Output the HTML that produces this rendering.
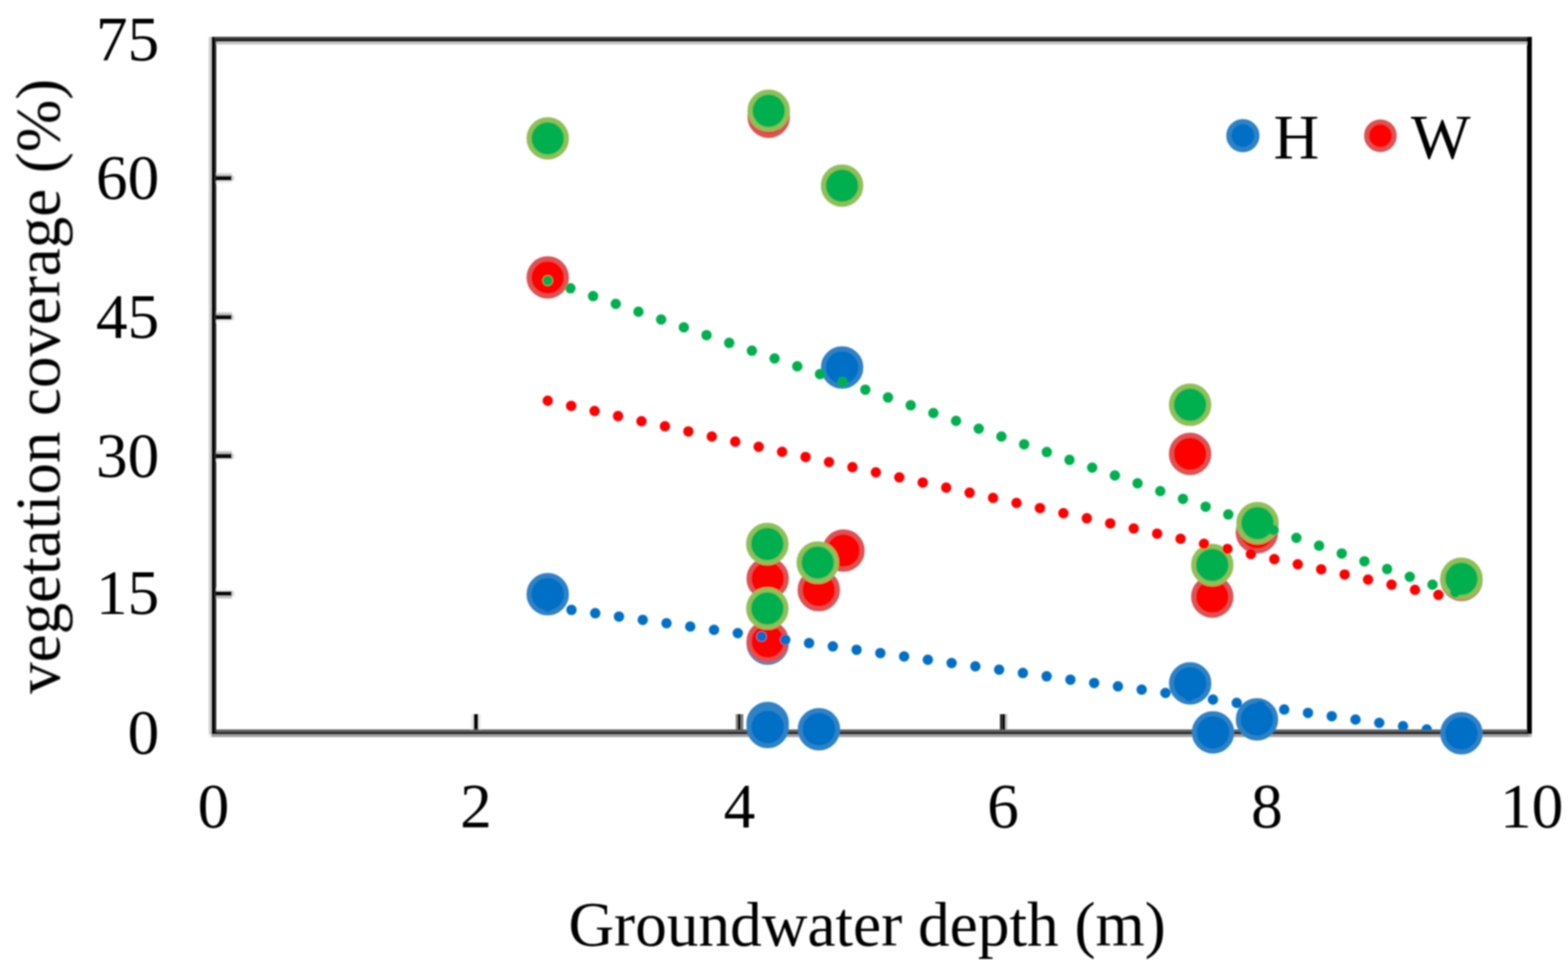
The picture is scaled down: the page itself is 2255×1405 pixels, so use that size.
<!DOCTYPE html>
<html><head><meta charset="utf-8"><title>vegetation coverage vs groundwater depth</title>
<style>
html,body{margin:0;padding:0;background:#fff;}
svg{display:block;}
text{font-family:'Liberation Serif','Times New Roman',serif;font-size:91px;fill:#000;}
</style></head><body>
<svg width="2255" height="1405" viewBox="0 0 2255 1405">
<defs><clipPath id="plot"><rect x="311" y="60" width="1885" height="990"/></clipPath>
<filter id="soft" x="0" y="0" width="2255" height="1405" filterUnits="userSpaceOnUse"><feGaussianBlur stdDeviation="0.8"/></filter></defs>
<rect width="2255" height="1405" fill="#fff"/>
<g filter="url(#soft)">

<g id="frame">
<rect x="300" y="53" width="4" height="1003" fill="#d2d2d2"/>
<rect x="300" y="1056" width="4" height="4" fill="#f0f0f0"/>
<rect x="311" y="60" width="1885" height="4" fill="#c8c8c8"/>
<rect x="304" y="53" width="1899" height="3.5" fill="#383838"/>
<rect x="304" y="56.5" width="1899" height="3.5" fill="#000"/>
<rect x="304" y="1056" width="1895" height="4" fill="#a2a2a2"/>
<rect x="2199" y="1056" width="4" height="4" fill="#c0c0c0"/>
<rect x="311" y="1049" width="1885" height="4" fill="#606060"/>
<rect x="304" y="1053" width="1899" height="3" fill="#000"/>
<rect x="304" y="53" width="4" height="1003" fill="#000"/>
<rect x="308" y="56" width="3" height="997" fill="#282828"/>
<rect x="2196" y="53" width="7" height="1003" fill="#000"/>
<rect x="311" y="249.0" width="22.5" height="3.8" fill="#d4d4d4"/>
<rect x="311" y="259.8" width="22.5" height="3.8" fill="#eeeeee"/>
<rect x="311" y="252.8" width="22.5" height="7" fill="#0a0a0a"/>
<rect x="333.5" y="252.8" width="3.5" height="7" fill="#dddddd"/>
<rect x="311" y="449.0" width="22.5" height="3.8" fill="#cccccc"/>
<rect x="311" y="459.8" width="22.5" height="3.8" fill="#f4f4f4"/>
<rect x="311" y="452.8" width="22.5" height="7" fill="#0a0a0a"/>
<rect x="333.5" y="452.8" width="3.5" height="7" fill="#dddddd"/>
<rect x="311" y="648.7" width="22.5" height="3.8" fill="#c4c4c4"/>
<rect x="311" y="659.5" width="22.5" height="3.8" fill="#fafafa"/>
<rect x="311" y="652.5" width="22.5" height="7" fill="#0a0a0a"/>
<rect x="333.5" y="652.5" width="3.5" height="7" fill="#dddddd"/>
<rect x="311" y="846.2" width="22.5" height="3.8" fill="#f8f8f8"/>
<rect x="311" y="857.0" width="22.5" height="3.8" fill="#c4c4c4"/>
<rect x="311" y="850.0" width="22.5" height="7" fill="#0a0a0a"/>
<rect x="333.5" y="850.0" width="3.5" height="7" fill="#dddddd"/>
<rect x="677" y="1027" width="4" height="22" fill="#eeeeee"/><rect x="688" y="1027" width="4" height="22" fill="#f0f0f0"/><rect x="681" y="1027" width="7" height="22" fill="#0a0a0a"/>
<rect x="1058" y="1027" width="3.2" height="22" fill="#8a8a8a"/><rect x="1065" y="1027" width="4" height="22" fill="#7a7a7a"/><rect x="1061" y="1027" width="4" height="22" fill="#000"/>
<rect x="1438" y="1027" width="4" height="22" fill="#333"/><rect x="1442" y="1027" width="4" height="22" fill="#000"/><rect x="1446" y="1027" width="3" height="22" fill="#cccccc"/>
<rect x="1818" y="1027" width="7" height="22" fill="#0a0a0a"/>
</g>
<g id="markers">
<circle cx="787.7" cy="854.5" r="27.0" fill="#0070c6" stroke="#2d82c5" stroke-width="7"/>
<circle cx="1211.1" cy="528.5" r="27.0" fill="#0070c6" stroke="#2d82c5" stroke-width="7"/>
<circle cx="1104" cy="925.5" r="27.0" fill="#0070c6" stroke="#2d82c5" stroke-width="7"/>
<circle cx="1104" cy="1039.8" r="27.0" fill="#0070c6" stroke="#2d82c5" stroke-width="7"/>
<circle cx="1104" cy="1045.5" r="27.0" fill="#0070c6" stroke="#2d82c5" stroke-width="7"/>
<circle cx="1177.8" cy="1048.7" r="27.0" fill="#0070c6" stroke="#2d82c5" stroke-width="7"/>
<circle cx="1711.6" cy="982.7" r="27.0" fill="#0070c6" stroke="#2d82c5" stroke-width="7"/>
<circle cx="1744.5" cy="1053.2" r="27.0" fill="#0070c6" stroke="#2d82c5" stroke-width="7"/>
<circle cx="1807.7" cy="1034.5" r="27.0" fill="#0070c6" stroke="#2d82c5" stroke-width="7"/>
<circle cx="2101.8" cy="1054.5" r="27.0" fill="#0070c6" stroke="#2d82c5" stroke-width="7"/>
<circle cx="787.7" cy="399" r="27.0" fill="#ff0000" stroke="#db5252" stroke-width="7"/>
<circle cx="1105.5" cy="168" r="27.0" fill="#ff0000" stroke="#db5252" stroke-width="7"/>
<circle cx="1104" cy="832" r="27.0" fill="#ff0000" stroke="#db5252" stroke-width="7"/>
<circle cx="1104" cy="922.5" r="27.0" fill="#ff0000" stroke="#db5252" stroke-width="7"/>
<circle cx="1177.5" cy="848.6" r="27.0" fill="#ff0000" stroke="#db5252" stroke-width="7"/>
<circle cx="1213" cy="791.7" r="27.0" fill="#ff0000" stroke="#db5252" stroke-width="7"/>
<circle cx="1711.5" cy="652.7" r="27.0" fill="#ff0000" stroke="#db5252" stroke-width="7"/>
<circle cx="1743.4" cy="858" r="27.0" fill="#ff0000" stroke="#db5252" stroke-width="7"/>
<circle cx="1807.6" cy="765.5" r="27.0" fill="#ff0000" stroke="#db5252" stroke-width="7"/>
<circle cx="2101.8" cy="834" r="27.0" fill="#ff0000" stroke="#db5252" stroke-width="7"/>
<circle cx="787.7" cy="199" r="27.0" fill="#00b04f" stroke="#8fc058" stroke-width="7"/>
<circle cx="1105.5" cy="159.3" r="27.0" fill="#00b04f" stroke="#8fc058" stroke-width="7"/>
<circle cx="1211" cy="267" r="27.0" fill="#00b04f" stroke="#8fc058" stroke-width="7"/>
<circle cx="1103.5" cy="782.3" r="27.0" fill="#00b04f" stroke="#8fc058" stroke-width="7"/>
<circle cx="1103.5" cy="875" r="27.0" fill="#00b04f" stroke="#8fc058" stroke-width="7"/>
<circle cx="1176" cy="809" r="27.0" fill="#00b04f" stroke="#8fc058" stroke-width="7"/>
<circle cx="1711.5" cy="582.1" r="27.0" fill="#00b04f" stroke="#8fc058" stroke-width="7"/>
<circle cx="1743.4" cy="812.4" r="27.0" fill="#00b04f" stroke="#8fc058" stroke-width="7"/>
<circle cx="1808.5" cy="752.3" r="27.0" fill="#00b04f" stroke="#8fc058" stroke-width="7"/>
<circle cx="2101.8" cy="832.3" r="27.0" fill="#00b04f" stroke="#8fc058" stroke-width="7"/>
</g>
<g id="trends" clip-path="url(#plot)">
<line x1="787.7" y1="872.3" x2="2101.8" y2="1056.0" stroke="#0070c6" stroke-width="15" stroke-linecap="round" stroke-dasharray="0 34.5"/>
<line x1="787.7" y1="576.3" x2="2101.8" y2="862.8" stroke="#ff0000" stroke-width="15" stroke-linecap="round" stroke-dasharray="0 34.5"/>
<line x1="787.7" y1="403.4" x2="2101.8" y2="855.1" stroke="#00b04f" stroke-width="15" stroke-linecap="round" stroke-dasharray="0 34.5"/>
</g>
<g id="ylabels" text-anchor="end">
<text x="229" y="86.5">75</text>
<text x="229" y="285.8">60</text>
<text x="229" y="485.8">45</text>
<text x="229" y="685.5">30</text>
<text x="229" y="883.0">15</text>
<text x="229" y="1084.0">0</text>
</g>
<g id="xlabels" text-anchor="middle">
<text x="307" y="1190">0</text>
<text x="684.5" y="1190">2</text>
<text x="1063.5" y="1190">4</text>
<text x="1442.5" y="1190">6</text>
<text x="1822" y="1190">8</text>
<text x="2202.8" y="1190">10</text>
</g>
<text x="1247" y="1359.5" text-anchor="middle">Groundwater depth (m)</text>
<text transform="translate(85.5 555.5) rotate(-90)" text-anchor="middle" style="font-size:90.5px">vegetation coverage (%)</text>
<circle cx="1787.4" cy="195.1" r="20.2" fill="#0070c6" stroke="#2d82c5" stroke-width="7.4"/>
<text x="1831.4" y="228">H</text>
<circle cx="1985.2" cy="195.2" r="20.1" fill="#ff0000" stroke="#db5252" stroke-width="6.8"/>
<text x="2029" y="228">W</text>
</g>
</svg>
</body></html>
